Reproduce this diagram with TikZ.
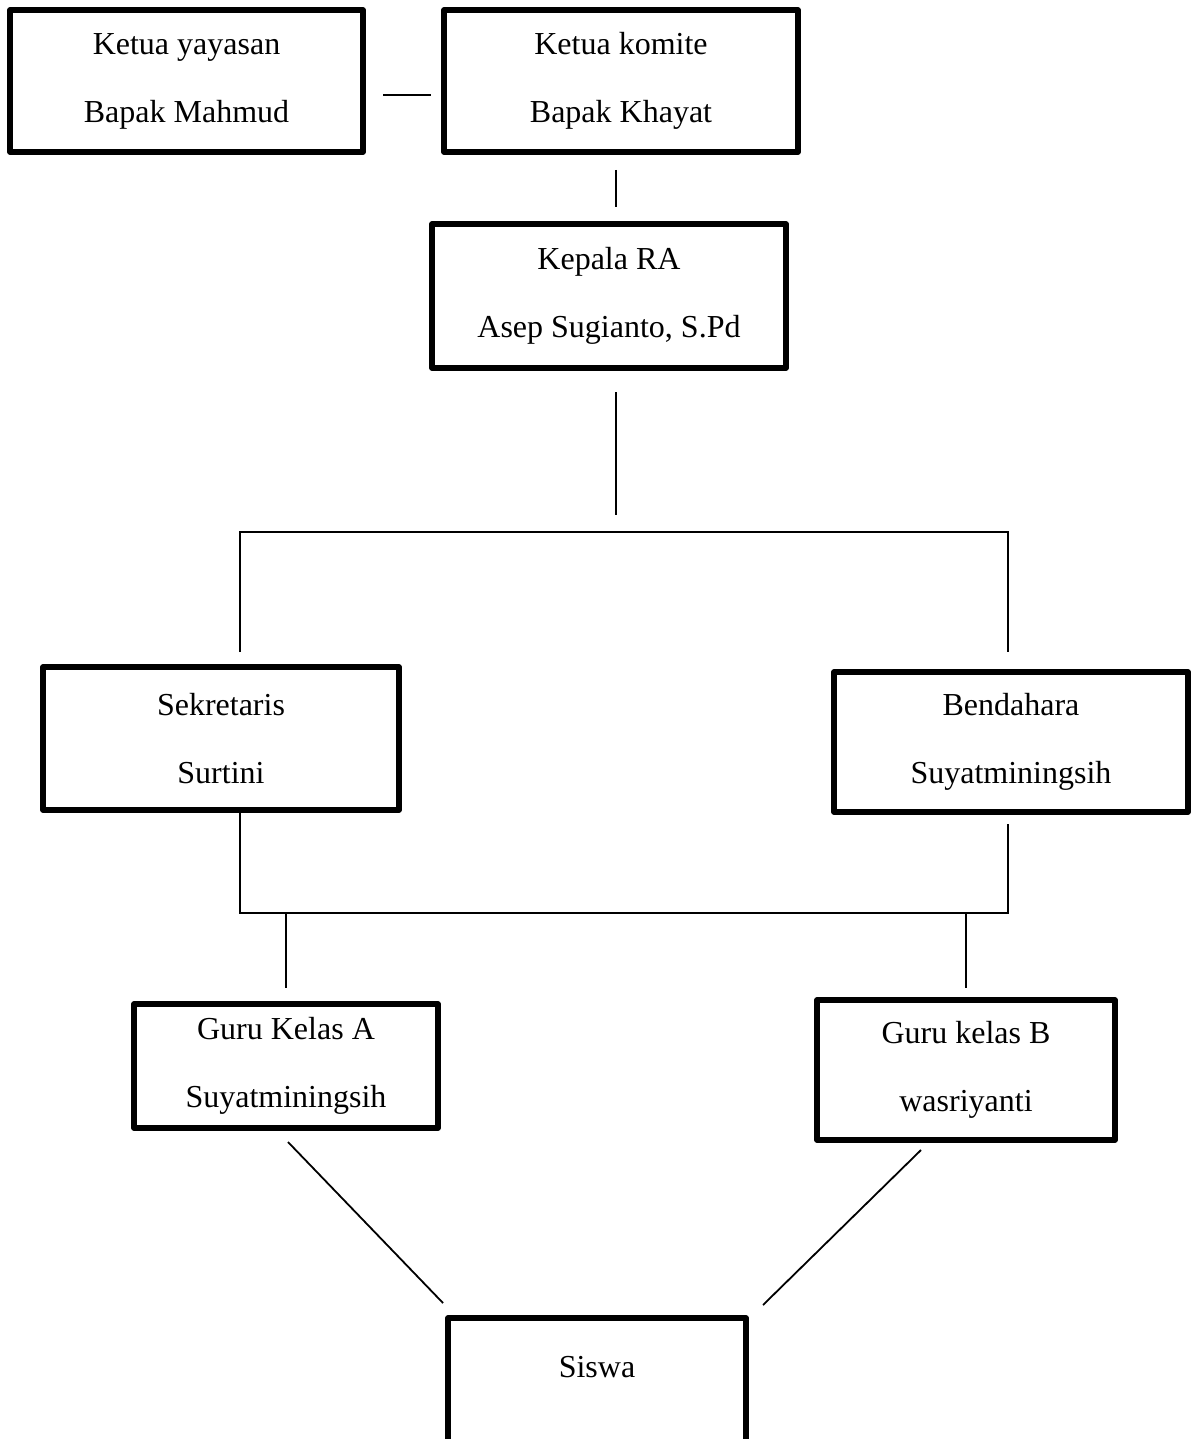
\documentclass[tikz,border=0pt]{standalone}
\usepackage{fontspec}
\setmainfont{Liberation Serif}
\usepackage{xcolor}
\usepackage{tikz}
\usetikzlibrary{calc,positioning}
\definecolor{ink}{HTML}{000000}
\newcommand{\boxfont}{\fontsize{16}{34}\selectfont}
\tikzset{
  every node/.style={font=\boxfont,text=ink},
  box/.style={draw=ink,line width=2.6pt,line join=round,align=center,inner sep=0pt,
              outer sep=0pt,minimum width=#1,minimum height=71pt},
  box/.default=177pt,
  link/.style={draw=ink,line width=0.9pt},
}

\begin{document}
\begin{tikzpicture}[x=0.5pt,y=-0.5pt]
  \useasboundingbox (0,0) rectangle (1198,1439);

  % ---------- yayasan, komite, kepala ----------
  \node[box=176.5pt] (yayasan) at (186.5,81) {Ketua yayasan\\Bapak Mahmud};
  \node[box] (komite) at (621,81) {Ketua komite\\Bapak Khayat};
  \node[box,minimum height=72pt] (kepala) at (609,296) {Kepala RA\\Asep Sugianto, S.Pd};
  \draw[link] ($(yayasan.east)+(20,14)$) -- ($(komite.west)+(-13,14)$);
  \draw[link] ($(komite.south)+(-5,18)$) -- ($(kepala.north)+(7,-17)$);

  % ---------- sekretaris, bendahara ----------
  \node[box=178pt,minimum height=71.5pt] (sekretaris) at (221,738.5) {Sekretaris\\Surtini};
  \node[box,minimum height=70pt] (bendahara) at (1011,742) {Bendahara\\Suyatminingsih};
  \coordinate (busA)  at (616,532);
  \coordinate (busAL) at (240,532);
  \coordinate (busAR) at (1008,532);
  \draw[link] ($(kepala.south)+(7,24)$) -- ($(busA)+(0,-17)$);
  \draw[link] ($(busAL |- sekretaris.north)+(0,-15)$) -- (busAL) -- (busAR)
              -- ($(busAR |- bendahara.north)+(0,-20)$);

  % ---------- guru kelas ----------
  \node[box=152pt,minimum height=62pt] (guruA) at (286,1066) {Guru Kelas A\\Suyatminingsih};
  \node[box=149pt,minimum height=70pt] (guruB) at (966,1070) {Guru kelas B\\wasriyanti};
  \coordinate (busBL) at (240,913);
  \coordinate (busBR) at (1008,913);
  \draw[link] ($(busBL |- sekretaris.south)+(0,2)$) -- (busBL) -- (busBR)
              -- ($(busBR |- bendahara.south)+(0,12)$);
  \draw[link] (guruA.north |- busBL) -- ($(guruA.north)+(0,-16)$);
  \draw[link] (guruB.north |- busBR) -- ($(guruB.north)+(0,-12)$);

  % ---------- siswa ----------
  \node[box=149pt,minimum height=83pt] (siswa) at (597,1401) {Siswa\\\mbox{}};
  \draw[link] ($(guruA.south)+(2,14)$) -- ($(siswa.north west)+(-5,-15)$);
  \draw[link] ($(guruB.south)+(-45,10)$) -- ($(siswa.north east)+(17,-13)$);
\end{tikzpicture}
\end{document}
